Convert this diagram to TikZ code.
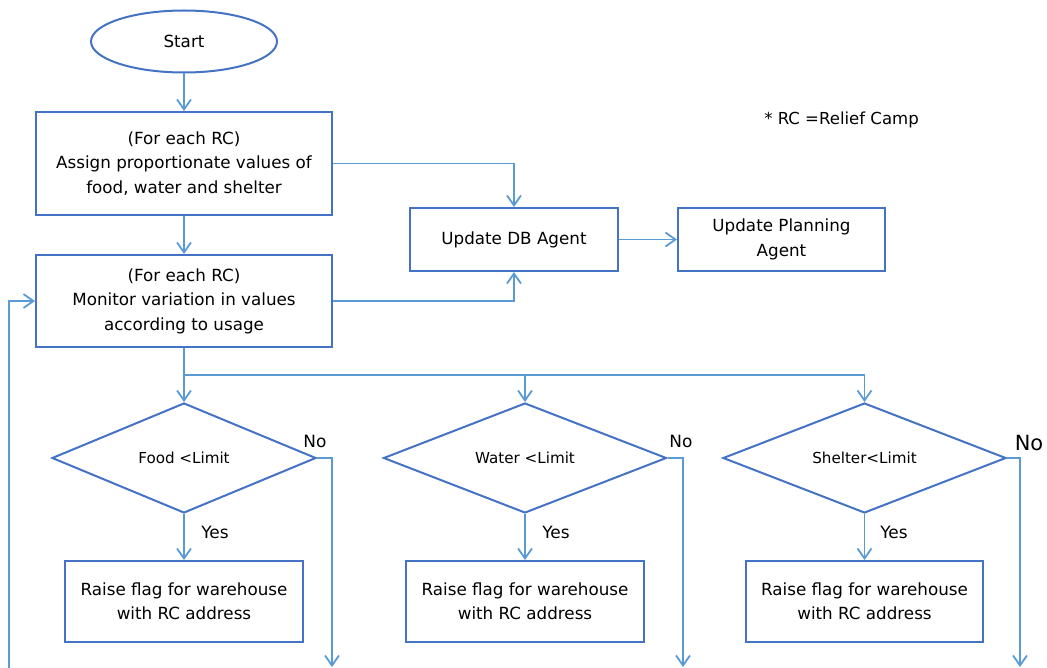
\documentclass[tikz,border=0pt]{standalone}
\usepackage{fontspec}
\setmainfont{DejaVu Sans}
\usetikzlibrary{shapes.geometric,arrows.meta}
\definecolor{boxblue}{HTML}{4472C4}
\definecolor{lineblue}{HTML}{5B9BD5}
\begin{document}
\begin{tikzpicture}[x=1bp,y=-1bp,
  box/.style={draw=boxblue, line width=2bp, align=center, inner sep=0pt, text=black,
    font=\fontsize{16.8}{24.5}\selectfont},
  dec/.style={draw=boxblue, line width=2bp, shape=diamond, aspect=2.4, inner sep=0pt,
    minimum height=110bp, font=\fontsize{15.2}{18}\selectfont},
  conn/.style={draw=lineblue, line width=1.8bp, -{Straight Barb[length=10bp,width=14bp]}},
  lbl/.style={inner sep=0pt, font=\fontsize{17}{20}\selectfont},
]
\useasboundingbox (0,0) rectangle (1047,668);

\node[box, shape=ellipse, minimum width=186bp, minimum height=62bp] (start) at (184,41.5) {Start};
\node[box, minimum width=296bp, minimum height=103bp] (b1) at (184,163.5)
  {(For each RC)\\Assign proportionate values of\\food, water and shelter};
\node[box, minimum width=296bp, minimum height=92bp] (b2) at (184,301)
  {(For each RC)\\Monitor variation in values\\according to usage};
\node[box, minimum width=208bp, minimum height=63bp] (db) at (514,239.5) {Update DB Agent};
\node[box, minimum width=207bp, minimum height=63bp] (plan) at (781.5,239.5) {Update Planning\\Agent};
\node[lbl, font=\fontsize{16.6}{20}\selectfont] (note) at (841.5,120) {* RC =Relief Camp};

\node[dec, minimum width=264bp] (d1) at (184,458) {Food <Limit};
\node[dec, minimum width=283bp] (d2) at (525,458) {Water <Limit};
\node[dec, minimum width=283bp] (d3) at (864.5,458) {Shelter<Limit};

\node[box, minimum width=238bp, minimum height=81bp] (r1) at (184,601.5) {Raise flag for warehouse\\with RC address};
\node[box, minimum width=238bp, minimum height=81bp] (r2) at (525,601.5) {Raise flag for warehouse\\with RC address};
\node[box, minimum width=237bp, minimum height=81bp] (r3) at (864.5,601.5) {Raise flag for warehouse\\with RC address};

\node[lbl] (no1) at (315,441) {No};
\node[lbl] (no2) at (681,441) {No};
\node[lbl, font=\fontsize{21}{24}\selectfont] (no3) at (1029,443) {No};
\node[lbl] (yes1) at (215,532) {Yes};
\node[lbl] (yes2) at (556,532) {Yes};
\node[lbl] (yes3) at (894,532) {Yes};

\coordinate (jn) at (184,375);
\coordinate (e1) at (332,667);
\coordinate (e2) at (683,667);
\coordinate (e3) at (1020,667);
\coordinate (fb) at (9,668);

\draw[conn] (start) -- (b1);
\draw[conn] (b1) -- (b2);
\draw[conn] (b1.east) -| (db.north);
\draw[conn] (b2.east) -| (db.south);
\draw[conn] (db) -- (plan);

\draw[conn] (b2.south) -- (d1.north);
\draw[conn] (jn) -| (d3.north);
\draw[conn] (jn -| d2.north) -- (d2.north);

\draw[conn] (d1) -- (r1);
\draw[conn] (d2) -- (r2);
\draw[conn] (d3) -- (r3);

\draw[conn] (d1.east) -| (e1);
\draw[conn] (d2.east) -| (e2);
\draw[conn] (d3.east) -| (e3);

\draw[conn] (fb) |- (b2.west);
\end{tikzpicture}
\end{document}
